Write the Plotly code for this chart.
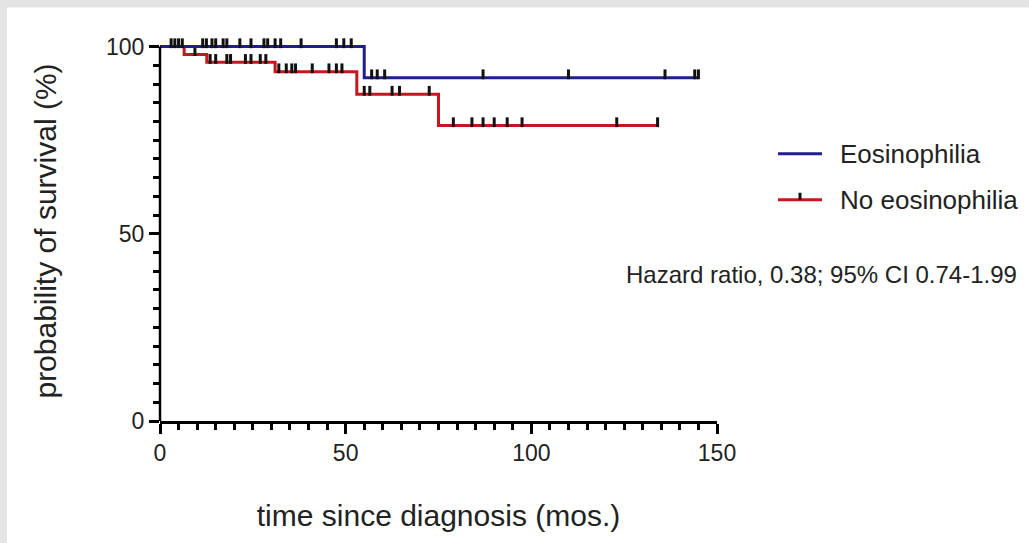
import numpy as np
import plotly.graph_objects as go

# Kaplan-Meier steps (months, % surviving)
eos_step_t = [0, 55, 145]
eos_step_s = [100, 91.7, 91.7]
no_eos_step_t = [0, 6.5, 12.6, 31, 53, 75, 134]
no_eos_step_s = [100, 97.9, 95.8, 93.3, 87.3, 78.9, 78.9]

# censored observations (months)
eos_censor_t = [3, 4, 5, 6, 11.5, 12.5, 14, 15, 17, 18, 21.5, 24.5, 28, 29, 31,
                32.5, 38, 47.5, 49.5, 51.5, 57, 58.5, 60.5, 87, 110, 136, 144, 145]
no_eos_censor_t = [9.4, 13.5, 15, 18, 19, 23, 24.5, 27, 28.5, 32, 34, 35.5, 36.5,
                   41, 45.5, 47.5, 49, 55, 56.5, 62.5, 64.5, 72.5, 79, 84, 87, 90,
                   93.5, 97.5, 123, 134]

x_ticks = [0, 50, 100, 150]
y_ticks = [0, 50, 100]
x_title = "time since diagnosis (mos.)"
y_title = "probability of survival (%)"
labels = ["Eosinophilia", "No eosinophilia"]
note = "Hazard ratio, 0.38; 95% CI 0.74-1.99"

BLUE = "#1f1f8a"
RED = "#c8161d"
INK = "#222222"
FONT = "Liberation Sans, Arial, sans-serif"

W, H = 1029, 543
Y_TOP = 101.5            # a little headroom so the 100% line is not clipped
PX_PER_PCT = 3.74
L, R = 160, 312
PW = W - L - R
PH = PX_PER_PCT * Y_TOP
T = 47 - (Y_TOP - 100) * PX_PER_PCT
B = H - T - PH
TICK_H = 1.8             # height of a censor mark, in % units


def level_at(step_t, step_s, times):
    idx = np.searchsorted(step_t, times, side="right") - 1
    return np.asarray(step_s)[idx]


def px_x(px):
    return (px - L) / PW


def px_y(py):
    return (H - B - py) / PH


fig = go.Figure()
# red group first so the blue curve sits on top where they overlap at 100 %
for name, st, ss, ct, col in [
    (labels[1], no_eos_step_t, no_eos_step_s, no_eos_censor_t, RED),
    (labels[0], eos_step_t, eos_step_s, eos_censor_t, BLUE),
]:
    fig.add_trace(go.Scatter(
        x=st, y=ss, mode="lines", name=name, showlegend=False,
        line=dict(color=col, width=3, shape="hv"),
    ))
    lv = level_at(st, ss, ct)
    fig.add_trace(go.Scatter(
        x=ct, y=lv + TICK_H / 2, mode="markers", showlegend=False,
        marker=dict(symbol="line-ns", size=7, color="#111",
                    line=dict(color="#111", width=3)),
        cliponaxis=False,
    ))

axis_common = dict(
    ticks="outside", ticklen=10, tickwidth=2.5, tickcolor="black",
    showgrid=False, zeroline=False,
    tickfont=dict(family=FONT, size=23, color=INK),
    minor=dict(ticks="outside", ticklen=6, tickwidth=2.5, tickcolor="black",
               showgrid=False),
)
fig.update_xaxes(range=[0, 150], tickvals=x_ticks, minor_dtick=5,
                 showline=True, linecolor="black", linewidth=2.5,
                 title=dict(text=x_title, font=dict(family=FONT, size=30, color=INK),
                            standoff=40), **axis_common)
fig.update_yaxes(range=[0, Y_TOP], tickvals=y_ticks, minor_dtick=5,
                 minor_tickvals=list(range(0, 101, 5)), showline=False,
                 title=dict(text=y_title, font=dict(family=FONT, size=30, color=INK),
                            standoff=40), **axis_common)

# y axis line, running from 0 to 100 %
fig.add_shape(type="line", xref="paper", yref="y", x0=0, x1=0, y0=0, y1=100,
              line=dict(color="black", width=2.5))

# legend
for i, (lab, col) in enumerate(zip(labels, [BLUE, RED])):
    yy = px_y(154 + 46 * i)
    fig.add_shape(type="line", xref="paper", yref="paper",
                  x0=px_x(778), x1=px_x(822), y0=yy, y1=yy,
                  line=dict(color=col, width=3))
    fig.add_annotation(text=lab, xref="paper", yref="paper", x=px_x(838), y=yy,
                       xanchor="left", yanchor="middle", showarrow=False,
                       font=dict(family=FONT, size=26, color=INK))
yy = px_y(200)
fig.add_shape(type="line", xref="paper", yref="paper",
              x0=px_x(800), x1=px_x(800), y0=yy, y1=px_y(193),
              line=dict(color="#111", width=3))

fig.add_annotation(text=note, xref="paper", yref="paper",
                   x=px_x(1019), y=px_y(275), xanchor="right",
                   yanchor="middle", showarrow=False,
                   font=dict(family=FONT, size=24, color=INK))

fig.add_shape(type="rect", xref="paper", yref="paper", layer="below",
              x0=-(L - 7) / PW, x1=1 + (R + 10) / PW,
              y0=-(B + 10) / PH, y1=1 + (T - 8) / PH,
              fillcolor="white", line_width=0)

fig.update_layout(
    width=W, height=H, margin=dict(l=L, r=R, t=T, b=B),
    paper_bgcolor="#e4e4e4", plot_bgcolor="white", showlegend=False,
)

fig.write_html("out.html", config={"displayModeBar": False})
